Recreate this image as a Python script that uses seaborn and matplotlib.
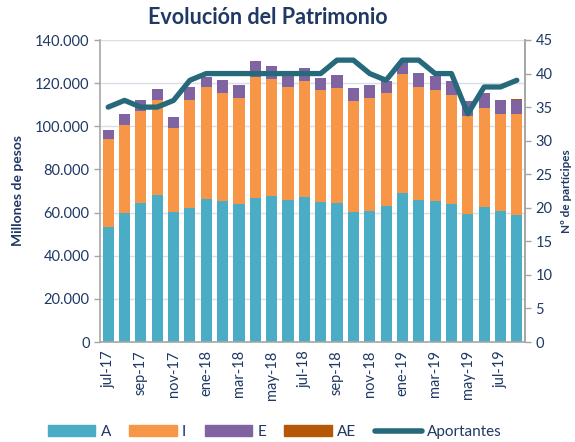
import matplotlib
matplotlib.use("Agg")
import matplotlib.pyplot as plt
import seaborn as sns
import pandas as pd
import numpy as np
from matplotlib.patches import Patch
from matplotlib.lines import Line2D
from matplotlib.ticker import FuncFormatter

months = ["jul-17", "ago-17", "sep-17", "oct-17", "nov-17", "dic-17",
          "ene-18", "feb-18", "mar-18", "abr-18", "may-18", "jun-18",
          "jul-18", "ago-18", "sep-18", "oct-18", "nov-18", "dic-18",
          "ene-19", "feb-19", "mar-19", "abr-19", "may-19", "jun-19",
          "jul-19", "ago-19"]
A = [53200, 59800, 64300, 68000, 60300, 62300, 66400, 65200, 64000, 66800,
     67500, 65700, 67200, 64700, 64300, 60300, 60600, 63200, 68900, 66000,
     65200, 63800, 59500, 62400, 60600, 59000]
I = [40800, 40800, 42800, 44000, 38900, 49700, 52000, 50400, 49300, 56200,
     54600, 52700, 54000, 52200, 53500, 51600, 52400, 52200, 55500, 52400,
     51500, 50600, 45400, 46100, 45000, 46700]
E = [4400, 5000, 4900, 5300, 5000, 6100, 4600, 5900, 5800, 7400,
     6000, 5600, 5800, 5600, 6000, 6000, 6000, 5600, 5500, 6400,
     6500, 6600, 6800, 6900, 6400, 6500]
AE = [0, 0, 0, 0, 0, 0, 0, 0, 0, 0, 0, 0, 0, 0, 0, 0, 0, 0, 0, 0,
      0, 0, 100, 150, 300, 300]
aportantes = [35, 36, 35, 35, 36, 39, 40, 40, 40, 40, 40, 40, 40, 40, 42, 42,
              40, 39, 42, 42, 40, 40, 34, 38, 38, 39]

C_A, C_I, C_E, C_AE = "#4BACC6", "#F79646", "#8064A2", "#B65708"
C_LINE = "#25697A"
NAVY = "#1F3864"
GRID = "#D9DEE8"
SPINE = "#A6A6A6"

sns.set_theme(style="white")
plt.rcParams['font.family'] = ['Lato', 'DejaVu Sans']

df = pd.DataFrame({"mes": months, "A": A, "I": I, "E": E, "AE": AE,
                   "aportantes": aportantes})
df["c_A"] = df["A"]
df["c_I"] = df["c_A"] + df["I"]
df["c_E"] = df["c_I"] + df["E"]
df["c_AE"] = df["c_E"] + df["AE"]
df["pos"] = np.arange(len(df))

fig = plt.figure(figsize=(5.75, 4.42), dpi=100)
ax = fig.add_axes([100/575, 1-342/442, 425/575, 302/442])

for col, c in [("c_AE", C_AE), ("c_E", C_E), ("c_I", C_I), ("c_A", C_A)]:
    sns.barplot(data=df, x="mes", y=col, color=c, ax=ax, width=0.68,
                saturation=1, linewidth=0, order=months)

ax.set_xlim(-0.5, len(months) - 0.5)
ax.set_ylim(0, 140000)
ax.set_yticks(np.arange(0, 140001, 20000))
ax.yaxis.set_major_formatter(FuncFormatter(lambda v, p: f"{int(v):,}".replace(",", ".")))
ax.grid(axis="y", color=GRID, lw=1)
ax.set_axisbelow(True)
ax.set_xlabel("")
ax.set_ylabel("Millones de pesos", fontsize=10, fontweight="bold", color=NAVY, labelpad=8)

ax.set_xticks(np.arange(0, len(months), 2))
ax.set_xticklabels(months[::2], rotation=90, fontsize=10.5, color=NAVY)
ax.set_xticks(np.arange(-0.5, len(months), 2), minor=True)
ax.tick_params(axis="x", which="major", length=0, pad=6)
ax.tick_params(axis="x", which="minor", length=4, color=SPINE, width=1, direction="out")
ax.tick_params(axis="y", length=4, color=SPINE, width=1, direction="out", labelsize=10.5,
               labelcolor=NAVY, left=True)

for s in ["top"]:
    ax.spines[s].set_visible(False)
for s in ["left", "bottom", "right"]:
    ax.spines[s].set_color(SPINE)
    ax.spines[s].set_linewidth(1.2)

ax2 = ax.twinx()
sns.lineplot(data=df, x="pos", y="aportantes", ax=ax2, color=C_LINE, lw=3.8,
             solid_capstyle="round", solid_joinstyle="round")
ax2.set_ylim(0, 45)
ax2.set_yticks(np.arange(0, 46, 5))
ax2.set_ylabel("Nº de partícipes", fontsize=8.5, fontweight="bold", color=NAVY, labelpad=6)
ax2.tick_params(axis="y", length=4, color=SPINE, width=1, direction="out", labelsize=10.5,
                labelcolor=NAVY, right=True)
ax2.set_xlim(-0.5, len(months) - 0.5)
for s in ["top", "left", "bottom"]:
    ax2.spines[s].set_visible(False)
ax2.spines["right"].set_color(SPINE)
ax2.spines["right"].set_linewidth(1.2)
ax2.grid(False)

fig.text(268/575, 1-18/442, "Evolución del Patrimonio", ha="center", va="center",
         fontsize=15.5, fontweight="bold", color=NAVY)

handles = [Patch(color=C_A), Patch(color=C_I), Patch(color=C_E), Patch(color=C_AE),
           Line2D([0], [0], color=C_LINE, lw=4, solid_capstyle="round")]
labels = ["A", "I", "E", "AE", "Aportantes"]
leg = fig.legend(handles, labels, loc="center", bbox_to_anchor=(275/575, 1-432/442), ncol=5,
                 frameon=False, fontsize=11, handlelength=3.1, handleheight=0.7,
                 handletextpad=0.35, columnspacing=1.2)
for t in leg.get_texts():
    t.set_color(NAVY)

fig.savefig("out.png", dpi=100)
